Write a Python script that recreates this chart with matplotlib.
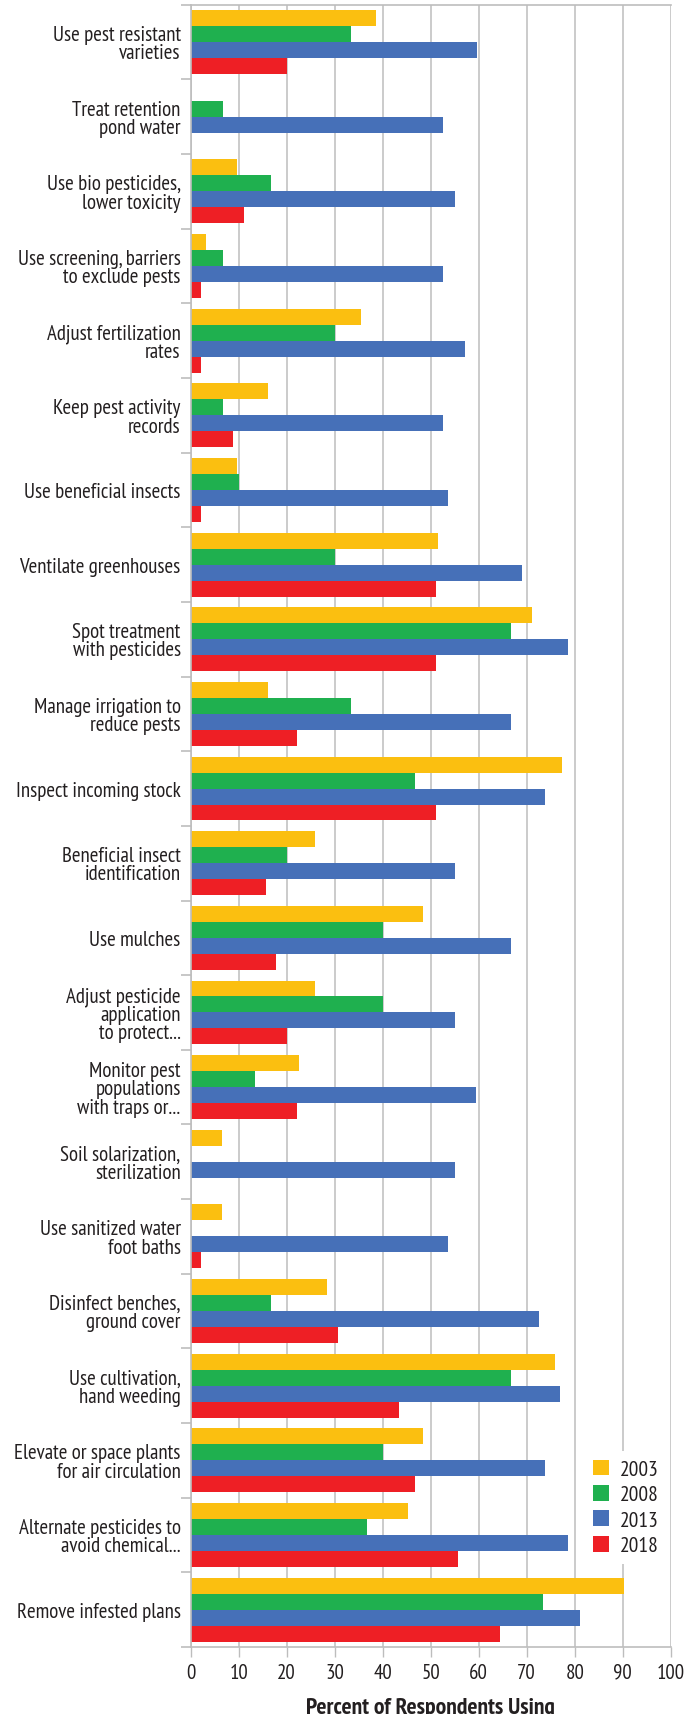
import matplotlib
matplotlib.use('Agg')
import matplotlib.pyplot as plt
import numpy as np

plt.rcParams['font.family'] = ['PT Sans Narrow', 'Liberation Sans', 'DejaVu Sans']

# practices, top to bottom
practices = [
    "Use pest resistant\nvarieties",
    "Treat retention\npond water",
    "Use bio pesticides,\nlower toxicity",
    "Use screening, barriers\nto exclude pests",
    "Adjust fertilization\nrates",
    "Keep pest activity\nrecords",
    "Use beneficial insects",
    "Ventilate greenhouses",
    "Spot treatment\nwith pesticides",
    "Manage irrigation to\nreduce pests",
    "Inspect incoming stock",
    "Beneficial insect\nidentification",
    "Use mulches",
    "Adjust pesticide\napplication\nto protect...",
    "Monitor pest\npopulations\nwith traps or...",
    "Soil solarization,\nsterilization",
    "Use sanitized water\nfoot baths",
    "Disinfect benches,\nground cover",
    "Use cultivation,\nhand weeding",
    "Elevate or space plants\nfor air circulation",
    "Alternate pesticides to\navoid chemical...",
    "Remove infested plans",
]

years = ['2003', '2008', '2013', '2018']

pct_2003 = [38.7, 0, 9.7, 3.2, 35.5, 16.1, 9.7, 51.6, 71.0, 16.1, 77.4,
            25.8, 48.4, 25.8, 22.6, 6.5, 6.5, 28.4, 75.8, 48.4, 45.2, 90.3]
pct_2008 = [33.3, 6.7, 16.7, 6.7, 30.0, 6.7, 10.0, 30.0, 66.7, 33.3, 46.7,
            20.0, 40.0, 40.0, 13.3, 0, 0, 16.7, 66.7, 40.0, 36.7, 73.3]
pct_2013 = [59.6, 52.5, 55.0, 52.5, 57.1, 52.5, 53.7, 69.0, 78.6, 66.7, 73.8,
            55.0, 66.7, 55.0, 59.5, 55.0, 53.6, 72.6, 77.0, 73.8, 78.6, 81.0]
pct_2018 = [20.0, 0, 11.1, 2.2, 2.2, 8.9, 2.2, 51.1, 51.1, 22.2, 51.1,
            15.6, 17.8, 20.0, 22.2, 0, 2.2, 30.6, 43.5, 46.7, 55.6, 64.4]

colors = ['#fbbf10', '#1fb04f', '#4670b8', '#ee1f25']
grid_col = '#bdbdbd'
text_col = '#231f20'

W, H = 699, 1715
fig = plt.figure(figsize=(W / 100, H / 100), dpi=100)
ax = fig.add_axes([190.7 / W, 1 - 1648 / H, 480 / W, (1648 - 5.7) / H])

y = np.arange(len(practices))
h = 0.214
series = [pct_2003, pct_2008, pct_2013, pct_2018]
for i, (vals, c, yr) in enumerate(zip(series, colors, years)):
    ax.barh(y + (i - 1.5) * h, vals, height=h, color=c, label=yr, zorder=2)

ax.set_xlim(0, 100)
ax.set_ylim(len(practices) - 0.5, -0.5)
ax.set_xticks(np.arange(0, 101, 10))
ax.tick_params(axis='x', length=7.2, width=1, color=grid_col, pad=4,
               labelsize=15, labelcolor=text_col)

ax.set_yticks(y)
ax.set_yticklabels(practices, fontsize=15, color=text_col, linespacing=0.95)
ax.tick_params(axis='y', which='major', length=0, pad=7.2)
ax.set_yticks(np.arange(-0.5, len(practices)), minor=True)
ax.tick_params(axis='y', which='minor', length=7.2, width=1.2, color=grid_col)

ax.grid(axis='x', color=grid_col, linewidth=1.1, zorder=0)
ax.set_axisbelow(True)
for s in ['top', 'bottom', 'left']:
    ax.spines[s].set_color(grid_col)
    ax.spines[s].set_linewidth(1.2)
ax.spines['right'].set_visible(False)

# label sits partly below the figure edge, as in the original
ax.set_xlabel('Percent of Respondents Using', fontsize=17, fontweight='bold',
              color=text_col, labelpad=11)

leg = ax.legend(loc='upper left', bbox_to_anchor=(584 / W, 1 - 1452 / H),
                bbox_transform=fig.transFigure, borderaxespad=0,
                fontsize=15.5, frameon=True, handlelength=0.75, handleheight=0.75,
                handletextpad=0.5, labelspacing=0.28, fancybox=False)
leg.get_frame().set_facecolor('white')
leg.get_frame().set_edgecolor('none')
leg.get_frame().set_alpha(1)
for t in leg.get_texts():
    t.set_color(text_col)

fig.savefig('out.png', dpi=100)
